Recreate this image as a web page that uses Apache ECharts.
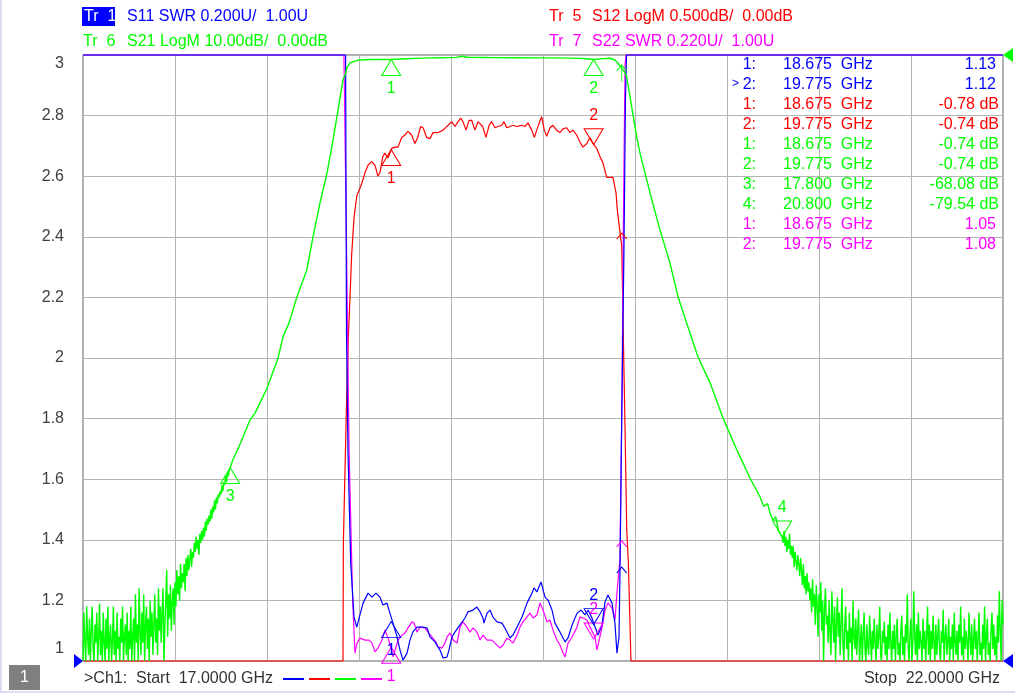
<!DOCTYPE html>
<html>
<head>
<meta charset="utf-8">
<title>Ch1 S-parameters 17-22 GHz</title>
<script src="https://cdn.jsdelivr.net/npm/echarts@6.0.0/dist/echarts.min.js"></script>
<style>
html, body { margin: 0; padding: 0; background: #fff; }
#chart { width: 1015px; height: 693px; }
</style>
</head>
<body>
<div id="chart"></div>
<script>
var FONT = "'Liberation Sans', Arial, sans-serif";
var BLUE = '#0000ff', RED = '#ff0000', GREEN = '#00ff00', MAGENTA = '#ff00ff';

// sweep, GHz
var startGHz = 17.0, stopGHz = 22.0;

// Tr 1  S11 SWR  [GHz, SWR]  (clipped at 3.00 on screen)
var s11 = [
  [17.000,3],[18.427,3],[18.432,2.092],[18.440,1.696],[18.455,1.323],[18.473,1.145],[18.488,1.112],
  [18.505,1.152],[18.522,1.191],[18.549,1.224],[18.571,1.211],[18.592,1.224],[18.614,1.211],[18.630,1.185],
  [18.652,1.191],[18.668,1.158],[18.685,1.125],[18.707,1.079],[18.723,1.036],[18.739,1.003],[18.761,1.026],
  [18.777,1.069],[18.793,1.096],[18.815,1.112],[18.848,1.112],[18.870,1.109],[18.886,1.079],[18.913,1.063],
  [18.940,1.036],[18.957,1.010],[18.978,1.013],[18.989,1.036],[19.005,1.079],[19.022,1.096],[19.049,1.119],
  [19.076,1.142],[19.092,1.162],[19.120,1.168],[19.141,1.178],[19.158,1.162],[19.174,1.142],[19.179,1.125],
  [19.196,1.158],[19.212,1.168],[19.228,1.145],[19.250,1.129],[19.277,1.125],[19.293,1.109],[19.321,1.076],
  [19.337,1.086],[19.359,1.112],[19.386,1.145],[19.413,1.191],[19.440,1.224],[19.451,1.241],[19.467,1.228],
  [19.489,1.261],[19.511,1.211],[19.527,1.201],[19.549,1.168],[19.565,1.125],[19.592,1.096],[19.620,1.063],
  [19.636,1.076],[19.658,1.119],[19.685,1.158],[19.707,1.168],[19.728,1.152],[19.745,1.168],[19.766,1.142],
  [19.783,1.112],[19.799,1.086],[19.821,1.119],[19.837,1.195],[19.853,1.218],[19.875,1.191],[19.891,1.125],
  [19.902,1.026],[19.913,1.079],[19.918,1.277],[19.929,1.861],[19.940,2.356],[19.948,2.851],[19.954,3],
  [22.000,3]
];

// Tr 5  S12 LogM  [GHz, dB]  (clipped at -5 dB on screen)
var s12 = [
  [17.000,-5],[18.413,-5],[18.415,-4.03],[18.424,-3.42],[18.433,-2.82],[18.442,-2.33],[18.451,-2.00],
  [18.460,-1.65],[18.473,-1.34],[18.488,-1.16],[18.497,-1.13],[18.515,-1.06],[18.533,-0.97],[18.549,-0.91],
  [18.569,-0.88],[18.587,-0.91],[18.603,-1.00],[18.614,-0.97],[18.629,-0.84],[18.641,-0.81],[18.658,-0.85],
  [18.678,-0.77],[18.696,-0.76],[18.712,-0.76],[18.732,-0.68],[18.750,-0.66],[18.766,-0.63],[18.786,-0.66],
  [18.804,-0.73],[18.819,-0.68],[18.835,-0.59],[18.848,-0.60],[18.868,-0.68],[18.886,-0.69],[18.902,-0.64],
  [18.929,-0.64],[18.957,-0.62],[18.984,-0.58],[19.004,-0.55],[19.022,-0.59],[19.038,-0.55],[19.053,-0.52],
  [19.065,-0.55],[19.082,-0.62],[19.098,-0.54],[19.113,-0.54],[19.130,-0.62],[19.147,-0.55],[19.172,-0.59],
  [19.190,-0.68],[19.207,-0.58],[19.221,-0.55],[19.239,-0.60],[19.255,-0.59],[19.276,-0.58],[19.288,-0.55],
  [19.303,-0.60],[19.321,-0.59],[19.337,-0.58],[19.357,-0.59],[19.384,-0.58],[19.402,-0.59],[19.418,-0.56],
  [19.439,-0.62],[19.453,-0.68],[19.466,-0.62],[19.484,-0.54],[19.493,-0.51],[19.507,-0.62],[19.520,-0.67],
  [19.538,-0.60],[19.554,-0.58],[19.574,-0.62],[19.592,-0.64],[19.609,-0.61],[19.629,-0.60],[19.647,-0.64],
  [19.663,-0.62],[19.683,-0.66],[19.701,-0.72],[19.717,-0.76],[19.738,-0.73],[19.755,-0.68],[19.772,-0.73],
  [19.792,-0.77],[19.810,-0.84],[19.826,-0.89],[19.846,-1.01],[19.864,-1.01],[19.880,-1.01],[19.897,-1.14],
  [19.904,-1.28],[19.915,-1.42],[19.928,-1.58],[19.936,-2.27],[19.946,-3.09],[19.955,-3.92],[19.964,-4.19],
  [19.978,-5],[22.000,-5]
];

// Tr 6  S21 LogM [dB]: lower stop band read every 5 MHz from 17.000 GHz
var s21LowStart = 17.000, s21LowStep = 0.005;
var s21Low = [
  -100,-92,-97,-100,-91,-96,-99,-93,-100,-95,
  -91,-98,-100,-94,-97,-92,-100,-96,-90.5,-99,
  -95,-100,-92,-97,-100,-93,-98,-91,-100,-96,
  -94,-100,-97,-91,-99,-95,-100,-92,-98,-96,
  -100,-93,-97,-91,-100,-96,-94,-99,-92,-100,
  -95,-98,-91,-100,-96,-93,-100,-89,-97,-94,
  -100,-88,-95,-99,-92,-97,-89,-100,-94,-91,
  -98,-93,-100,-90,-96,-92,-99,-94,-89,-97,
  -93,-99,-88,-95,-91,-97,-92,-88,-100,-94,
  -90,-85,-96,-89,-93,-87.5,-95,-90,-88,-94,
  -87,-91,-85,-89,-86,-90,-84,-88,-85.5,-87,
  -84,-88.5,-83,-86,-82.5,-85,-83.5,-81.5,-84.5,-82,
  -83,-80.5,-82,-79.5,-81.5,-80,-82.5,-79,-80.5,-78.5,
  -80,-78,-79.5,-77,-78.5,-76.5,-77.5,-76,-77,-75,
  -76.5,-74.5,-75.5,-73.5,-75,-73,-74,-72.5,-73,-72,
  -72.5,-71,-72,-70.5,-71,-69.5,-70.5,-69,-69.5,-68.5
];
// S21 slopes and pass band [GHz, dB]
var s21Mid = [
  [17.800,-68.08],[17.815,-66.8],[17.864,-63.5],[17.908,-60.2],[17.935,-59.1],[18.000,-55.0],[18.060,-50.0],
  [18.087,-46.5],[18.120,-44.2],[18.163,-39.9],[18.216,-35.5],[18.250,-30.0],[18.288,-24.4],[18.326,-19.5],
  [18.359,-14.0],[18.386,-9.1],[18.413,-4.1],[18.424,-3.3],[18.435,-2.1],[18.451,-1.3],[18.478,-1.0],
  [18.500,-0.83],[18.560,-0.75],[18.620,-0.72],[18.675,-0.74],[18.750,-0.62],[18.850,-0.52],[18.950,-0.45],
  [19.030,-0.40],[19.060,-0.20],[19.090,-0.38],[19.200,-0.42],[19.350,-0.45],[19.500,-0.48],[19.650,-0.52],
  [19.720,-0.58],[19.775,-0.74],[19.830,-0.60],[19.864,-0.54],[19.891,-0.83],[19.908,-1.37],[19.928,-2.15],
  [19.946,-2.97],[19.955,-3.63],[19.973,-6.9],[19.991,-10.2],[20.009,-13.5],[20.027,-16.2],[20.082,-22.8],
  [20.136,-28.9],[20.190,-34.3],[20.234,-39.9],[20.288,-44.9],[20.342,-49.8],[20.408,-54.1],[20.478,-59.9],
  [20.554,-65.2],[20.625,-69.8],[20.679,-72.9],[20.700,-74.5],[20.720,-74.0],[20.734,-75.6],[20.750,-76.8],
  [20.765,-76.2],[20.780,-78.5],[20.800,-79.54]
];
// S21 upper stop band read every 5 MHz from 20.805 GHz
var s21HighStart = 20.805, s21HighStep = 0.005;
var s21High = [
  -80.5,-78.5,-81,-79.5,-82,-80,-81.5,-79,-82.5,-81,
  -83,-81,-84.5,-82,-83.5,-85,-82.5,-84,-86,-83,
  -85,-87.5,-84,-88,-86,-89,-85.5,-88.5,-87,-90,
  -88,-92,-86.5,-91,-89,-94,-87.5,-90.5,-96,-89,
  -92,-87,-95,-90,-100,-91.5,-88,-94,-92.5,-97,
  -90,-95.5,-99,-88.5,-93,-97,-91,-100,-94,-89.5,
  -96,-92,-99,-93.5,-88,-97,-100,-94,-91,-98,
  -95,-100,-92,-97,-94.5,-100,-90,-96,-98,-93,
  -99,-95,-91.5,-100,-97,-94,-100,-96,-92,-98,
  -100,-94,-97.5,-99,-92.5,-96,-100,-95,-98,-93,
  -97,-100,-94,-98,-96,-91,-99,-100,-95,-97,
  -93.5,-99,-96,-100,-94,-98,-92,-97,-100,-95,
  -98,-94,-100,-96,-93,-99,-97,-100,-95,-92.5,
  -99,-96,-100,-94,-97,-89,-98,-100,-95,-93,
  -100,-97,-88.5,-96,-99,-94,-100,-92,-98,-95,
  -97,-100,-93,-98,-95,-100,-96,-91,-99,-94,
  -100,-95,-98,-92.5,-97,-100,-94,-99,-96,-93,
  -98,-100,-95,-97,-91.5,-100,-96,-94,-99,-97,
  -93,-100,-96,-98,-94,-100,-92,-97,-99,-95,
  -100,-94,-97,-91,-99,-96,-100,-93,-98,-95,
  -97,-100,-92,-96,-99,-94,-100,-97,-93,-98,
  -95,-100,-96,-92,-99,-97,-100,-94,-98,-91,
  -100,-96,-93,-99,-97,-100,-95,-92,-98,-94,
  -99,-96,-100,-92.5,-97,-88.5,-95,-100,-90,-94
];

// Tr 7  S22 SWR  [GHz, SWR]  (clipped at 3.20 on screen)
var s22 = [
  [17.000,3.2],[18.418,3.2],[18.429,2.674],[18.446,1.766],[18.466,1.211],[18.478,1.029],[18.489,1.065],
  [18.505,1.083],[18.533,1.076],[18.554,1.076],[18.571,1.065],[18.587,1.033],[18.603,1.047],[18.625,1.076],
  [18.641,1.113],[18.658,1.083],[18.674,1.047],[18.685,1.015],[18.696,1.040],[18.712,1.076],[18.734,1.094],
  [18.750,1.102],[18.766,1.120],[18.788,1.142],[18.799,1.138],[18.815,1.105],[18.832,1.123],[18.859,1.120],
  [18.875,1.105],[18.897,1.087],[18.918,1.069],[18.929,1.051],[18.951,1.047],[18.967,1.065],[18.978,1.087],
  [18.995,1.102],[19.011,1.076],[19.033,1.065],[19.049,1.123],[19.065,1.142],[19.087,1.123],[19.103,1.105],
  [19.120,1.120],[19.141,1.105],[19.158,1.076],[19.174,1.094],[19.196,1.076],[19.223,1.076],[19.239,1.065],
  [19.266,1.047],[19.283,1.058],[19.304,1.083],[19.321,1.076],[19.337,1.065],[19.359,1.094],[19.375,1.123],
  [19.391,1.142],[19.413,1.160],[19.429,1.174],[19.446,1.156],[19.467,1.167],[19.484,1.211],[19.500,1.185],
  [19.522,1.142],[19.538,1.149],[19.554,1.113],[19.576,1.076],[19.592,1.058],[19.609,1.029],[19.620,1.015],
  [19.636,1.065],[19.658,1.087],[19.685,1.123],[19.701,1.160],[19.717,1.156],[19.739,1.149],[19.755,1.123],
  [19.783,1.087],[19.793,1.040],[19.799,1.058],[19.821,1.123],[19.837,1.185],[19.853,1.211],[19.875,1.192],
  [19.891,1.149],[19.902,1.247],[19.918,1.367],[19.929,1.948],[19.938,2.674],[19.946,3.164],[19.951,3.2],
  [22.000,3.2]
];

// markers: number, GHz, readout, triangle direction
var s11Marks = [{n:'1', f:18.675, v:1.13, dir:'up'}, {n:'2', f:19.775, v:1.12, dir:'down'}];
var s12Marks = [{n:'1', f:18.675, v:-0.78, dir:'up'}, {n:'2', f:19.775, v:-0.74, dir:'down'}];
var s21Marks = [{n:'1', f:18.675, v:-0.74, dir:'up'}, {n:'2', f:19.775, v:-0.74, dir:'up'},
                {n:'3', f:17.800, v:-68.08, dir:'up'}, {n:'4', f:20.800, v:-79.54, dir:'down'}];
var s22Marks = [{n:'1', f:18.675, v:1.05, dir:'up'}, {n:'2', f:19.775, v:1.08, dir:'down'}];

// small arrow marks at 19.928 GHz
var arrowGHz = 19.928;
var arrowVals = {s11: 1.31, s12: -1.47, s21: -1.65, s22: 1.436};

function sweep(start, step, vals) {
  return vals.map(function (v, i) { return [+(start + i * step).toFixed(4), v]; });
}
function clamp(pairs, lo, hi) {
  return pairs.map(function (p) { return [p[0], Math.min(hi, Math.max(lo, p[1]))]; });
}

var s21 = sweep(s21LowStart, s21LowStep, s21Low).concat(s21Mid, sweep(s21HighStart, s21HighStep, s21High));

var UP = 'path://M9,0 L18,16 L0,16 Z';
var DOWN = 'path://M0,0 L18,0 L9,16 Z';

function marks(list, color, arrowV, stem) {
  var d = list.map(function (m) {
    var down = m.dir === 'down';
    return {
      coord: [m.f, m.v],
      symbol: down ? DOWN : UP,
      symbolSize: [19, 16],
      symbolOffset: [0, down ? -8 : 8],
      itemStyle: {color: 'rgba(0,0,0,0)', borderColor: color, borderWidth: 1},
      label: {show: true, formatter: m.n, position: down ? 'top' : 'bottom', distance: 5,
               color: color, fontSize: 16, fontFamily: FONT}
    };
  });
  d.push({
    coord: [arrowGHz, arrowV],
    symbol: stem ? 'path://M0,6 L5,0 L10,6 M5,0 L5,17' : 'path://M0,6 L5,0 L10,6',
    symbolSize: stem ? [10, 17] : [10, 6],
    symbolOffset: [0, stem ? 8.5 : 3],
    itemStyle: {color: 'rgba(0,0,0,0)', borderColor: color, borderWidth: 1},
    label: {show: false}
  });
  return {silent: true, animation: false, data: d};
}

function trace(name, data, color, yIdx, mk, z, w) {
  return {
    name: name, type: 'line', data: data, xAxisIndex: 0, yAxisIndex: yIdx,
    showSymbol: false, symbol: 'none', clip: false, z: z, silent: true,
    lineStyle: {color: color, width: w || 1}, itemStyle: {color: color},
    markPoint: mk
  };
}

// marker readout table
function hz(f) { return f.toFixed(3) + '  GHz'; }
var table = [];
s11Marks.forEach(function (m) { table.push([m.n, hz(m.f), m.v.toFixed(2), BLUE, 996]); });
s12Marks.forEach(function (m) { table.push([m.n, hz(m.f), m.v.toFixed(2) + ' dB', RED, 999]); });
s21Marks.forEach(function (m) { table.push([m.n, hz(m.f), m.v.toFixed(2) + ' dB', GREEN, 999]); });
s22Marks.forEach(function (m) { table.push([m.n, hz(m.f), m.v.toFixed(2), MAGENTA, 996]); });

function txt(x, y, s, color, align, size) {
  return {
    type: 'text', x: x, y: y, z: 50, silent: true,
    style: {text: s, fill: color, font: (size || 16) + 'px ' + FONT,
            textAlign: align || 'left', align: align || 'left',
            textVerticalAlign: 'middle', verticalAlign: 'middle'}
  };
}

var g = [];
g.push({type: 'rect', z: 40, silent: true, shape: {x: 82, y: 7, width: 33, height: 19}, style: {fill: BLUE}});
g.push(txt(84, 16.5, 'Tr  1', '#ffffff'));
g.push(txt(127, 16.5, 'S11 SWR 0.200U/  1.00U', BLUE));
g.push(txt(83, 42, 'Tr  6', GREEN));
g.push(txt(127, 42, 'S21 LogM 10.00dB/  0.00dB', GREEN));
g.push(txt(549, 16.5, 'Tr  5', RED));
g.push(txt(592, 16.5, 'S12 LogM 0.500dB/  0.00dB', RED));
g.push(txt(549, 42, 'Tr  7', MAGENTA));
g.push(txt(592, 42, 'S22 SWR 0.220U/  1.00U', MAGENTA));

table.forEach(function (r, i) {
  var y = 65 + i * 20;
  g.push(txt(756, y, r[0] + ':', r[3], 'right'));
  g.push(txt(783, y, r[1], r[3]));
  g.push(txt(r[4], y, r[2], r[3], 'right'));
});
g.push(txt(732, 84, '>', BLUE, 'left', 12));

// reference arrows at the frame
g.push({type: 'polygon', z: 45, silent: true, shape: {points: [[1003, 55], [1013, 48], [1013, 62]]}, style: {fill: GREEN}});
g.push({type: 'polygon', z: 45, silent: true, shape: {points: [[83, 661], [74, 654], [74, 668]]}, style: {fill: BLUE}});
g.push({type: 'polygon', z: 45, silent: true, shape: {points: [[1003, 661], [1013, 654], [1013, 668]]}, style: {fill: BLUE}});

// status bar
g.push({type: 'rect', z: 40, silent: true, shape: {x: 9, y: 665, width: 31, height: 25}, style: {fill: '#7f7f7f'}});
g.push(txt(24.5, 678, '1', '#ffffff', 'center'));
g.push(txt(84, 679, '>Ch1:  Start  17.0000 GHz', '#333333', 'left', 16));
[BLUE, RED, GREEN, MAGENTA].forEach(function (c, i) {
  g.push({type: 'line', z: 40, silent: true, shape: {x1: 283 + i * 26, y1: 679, x2: 304 + i * 26, y2: 679},
          style: {stroke: c, lineWidth: 2}});
});
g.push(txt(1000, 679, 'Stop  22.0000 GHz', '#333333', 'right', 16));

// window edge
g.push({type: 'line', z: 1, silent: true, shape: {x1: 1, y1: 0, x2: 1, y2: 693}, style: {stroke: '#dcdcf2', lineWidth: 2}});
g.push({type: 'line', z: 1, silent: true, shape: {x1: 0, y1: 692, x2: 1015, y2: 692}, style: {stroke: '#dcdcf2', lineWidth: 2}});

var grey = '#b4b4b4';
var hidden = {show: false};

var option = {
  animation: false,
  backgroundColor: '#ffffff',
  grid: {left: 83, top: 55, right: 12, bottom: 32, show: true, borderColor: '#595959', borderWidth: 1,
         backgroundColor: '#ffffff', containLabel: false},
  xAxis: {
    type: 'value', min: startGHz, max: stopGHz, interval: 0.5,
    axisLine: hidden, axisTick: hidden, axisLabel: hidden,
    splitLine: {show: true, lineStyle: {color: grey, width: 1}}
  },
  yAxis: [
    {
      type: 'value', min: 1, max: 3, interval: 0.2,
      axisLine: hidden, axisTick: hidden,
      splitLine: {show: true, lineStyle: {color: grey, width: 1}},
      axisLabel: {
        margin: 19, color: '#404040', fontSize: 16, fontFamily: FONT,
        formatter: function (v) {
          var s = String(+v.toFixed(1));
          if (Math.abs(v - 3) < 1e-6) return '{top|' + s + '}';
          if (Math.abs(v - 1) < 1e-6) return '{bot|' + s + '}';
          return s;
        },
        rich: {
          top: {padding: [18, 0, 0, 0], color: '#404040', fontSize: 16, fontFamily: FONT},
          bot: {padding: [0, 0, 24, 0], color: '#404040', fontSize: 16, fontFamily: FONT}
        }
      }
    },
    {type: 'value', min: -100, max: 0, show: false, splitLine: hidden},
    {type: 'value', min: -5, max: 0, show: false, splitLine: hidden},
    {type: 'value', min: 1, max: 3.2, show: false, splitLine: hidden}
  ],
  series: [
    trace('S12', clamp(s12, -5, 0), RED, 2, marks(s12Marks, RED, arrowVals.s12, false), 2, 1.2),
    trace('S22', clamp(s22, 1, 3.2), MAGENTA, 3, marks(s22Marks, MAGENTA, arrowVals.s22, false), 3, 1.2),
    trace('S11', clamp(s11, 1, 3), BLUE, 0, marks(s11Marks, BLUE, arrowVals.s11, false), 4, 1.2),
    trace('S21', clamp(s21, -100, 0), GREEN, 1, marks(s21Marks, GREEN, arrowVals.s21, true), 5, 1.4)
  ],
  graphic: g
};

var chart = echarts.init(document.getElementById('chart'), null, {renderer: 'canvas'});
chart.setOption(option);
</script>
</body>
</html>
